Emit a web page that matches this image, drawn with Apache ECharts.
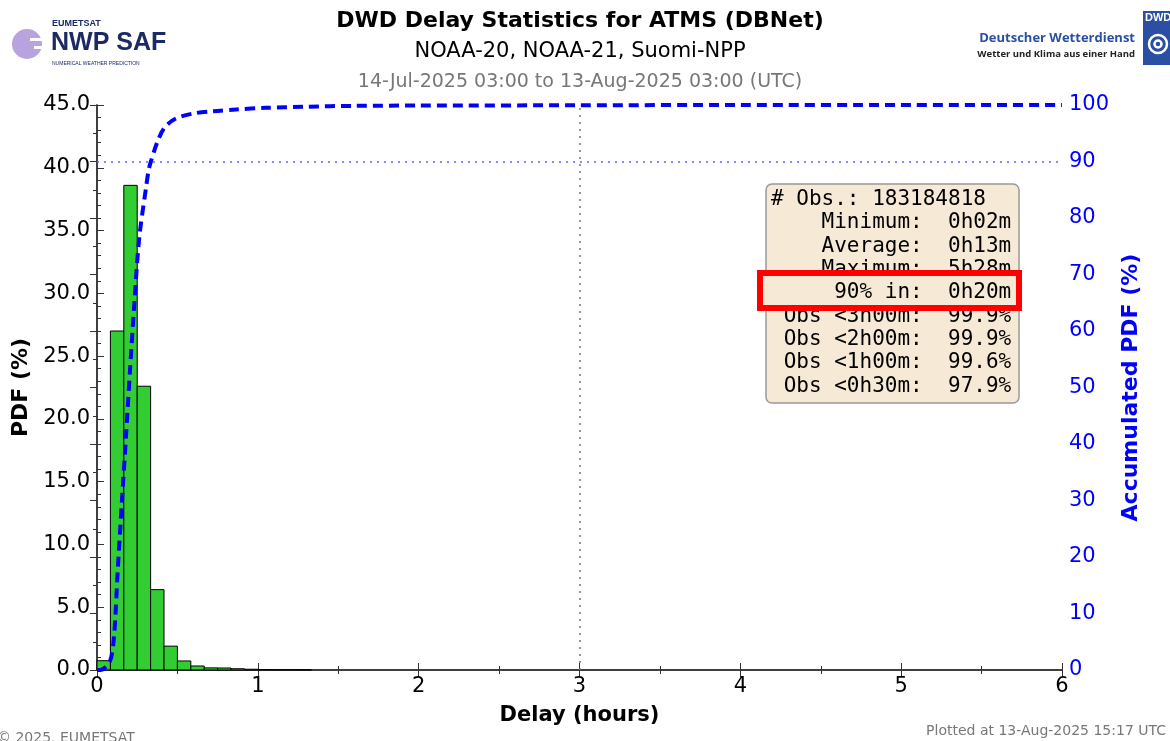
<!DOCTYPE html>
<html>
<head>
<meta charset="utf-8">
<script src="https://cdn.jsdelivr.net/npm/echarts@6/dist/echarts.min.js"></script>
<style>
  html, body { margin: 0; padding: 0; background: #fff; }
  #main { width: 1170px; height: 741px; }
</style>
</head>
<body>
<div id="main"></div>
<script>
// histogram: 5-minute bins starting at 0h
var binMinutes = 5;
var pdfValues = [0.74, 27.0, 38.6, 22.6, 6.4, 1.9, 0.72, 0.32, 0.17, 0.16, 0.1, 0.06, 0.04, 0.03, 0.03, 0.02];

// accumulated PDF
var cumHours  = [0, 0.02, 0.08, 0.106, 0.129, 0.154, 0.18, 0.205, 0.232, 0.263, 0.305, 0.32, 0.333, 0.377, 0.42, 0.49, 0.6, 0.72, 0.865, 1.05, 1.3, 1.6, 2, 3, 4, 5, 6];
var cumValues = [0, 0, 1.5, 6, 17.7, 29.5, 41.2, 53, 64.8, 76.6, 85.4, 88.3, 89.8, 93.6, 96, 97.6, 98.5, 98.9, 99.2, 99.5, 99.7, 99.85, 99.9, 99.95, 100, 100, 100];

var xTicks = [0, 1, 2, 3, 4, 5, 6];
var statsLines = [
    '# Obs.: 183184818',
    '    Minimum:  0h02m',
    '    Average:  0h13m',
    '    Maximum:  5h28m',
    '',
    ' Obs <3h00m:  99.9%',
    ' Obs <2h00m:  99.9%',
    ' Obs <1h00m:  99.6%',
    ' Obs <0h30m:  97.9%'
];
var highlightLine = '     90% in:  0h20m';

var histData = pdfValues.map(function (v, i) {
    return [i * binMinutes / 60, (i + 1) * binMinutes / 60, v];
});
var cumData = cumHours.map(function (h, i) { return [h, cumValues[i]]; });

var chart = echarts.init(document.getElementById('main'));
var axisLine = { lineStyle: { color: '#333', width: 1.5 } };
var font = 'DejaVu Sans';

var option = {
    animation: false,
    grid: { left: 97, right: 108, top: 105, bottom: 71 },
    xAxis: [
        {
            type: 'value', min: 0, max: 6, interval: 1,
            axisLine: axisLine,
            axisTick: { inside: true, length: 7, lineStyle: { color: '#333' } },
            minorTick: { show: true, splitNumber: 2, length: 4, lineStyle: { color: '#333' } },
            splitLine: { show: false },
            axisLabel: { fontFamily: font, fontSize: 21, color: '#000', margin: 6,
                formatter: function (v) { return xTicks.indexOf(v) >= 0 ? String(v) : ''; } },
            name: 'Delay (hours)', nameLocation: 'middle', nameGap: 35,
            nameTextStyle: { fontFamily: font, fontSize: 21, fontWeight: 'bold', color: '#000' }
        },
        {
            type: 'value', position: 'top', min: 0, max: 6, interval: 1,
            axisLine: axisLine,
            axisTick: { inside: true, length: 7, lineStyle: { color: '#333' } },
            minorTick: { show: true, splitNumber: 2, length: 4, lineStyle: { color: '#333' } },
            splitLine: { show: false },
            axisLabel: { show: false }
        }
    ],
    yAxis: [
        {
            type: 'value', min: 0, max: 45, interval: 5,
            axisLine: Object.assign({ show: true }, axisLine),
            axisTick: { show: true, inside: true, length: 7, lineStyle: { color: '#333' } },
            minorTick: { show: true, splitNumber: 5, length: 4, lineStyle: { color: '#333' } },
            splitLine: { show: false },
            axisLabel: { fontFamily: font, fontSize: 21, color: '#000', margin: 7,
                formatter: function (v) { return v.toFixed(1); } },
            name: 'PDF (%)', nameLocation: 'middle', nameGap: 58, nameRotate: 90,
            nameTextStyle: { fontFamily: font, fontSize: 22, fontWeight: 'bold', color: '#000' }
        },
        {
            type: 'value', min: 0, max: 100, interval: 10, position: 'right',
            axisLine: Object.assign({ show: true }, axisLine),
            axisTick: { show: true, inside: true, length: 7, lineStyle: { color: '#333' } },
            minorTick: { show: true, splitNumber: 2, length: 4, lineStyle: { color: '#333' } },
            splitLine: { show: false },
            axisLabel: { fontFamily: font, fontSize: 21, color: '#0000ff', margin: 7 },
            name: 'Accumulated PDF (%)', nameLocation: 'middle', nameGap: 47, nameRotate: 90,
            nameTextStyle: { fontFamily: font, fontSize: 22, fontWeight: 'bold', color: '#0000ff' }
        }
    ],
    series: [
        {
            type: 'custom',
            xAxisIndex: 0, yAxisIndex: 0,
            z: 2,
            encode: { x: [0, 1], y: 2 },
            data: histData,
            renderItem: function (params, api) {
                var p0 = api.coord([api.value(0), api.value(2)]);
                var p1 = api.coord([api.value(1), 0]);
                return {
                    type: 'rect',
                    shape: { x: p0[0], y: p0[1], width: p1[0] - p0[0], height: p1[1] - p0[1] },
                    style: { fill: '#32cd32', stroke: '#000', lineWidth: 1 }
                };
            }
        },
        {
            type: 'line',
            xAxisIndex: 0, yAxisIndex: 1,
            z: 4,
            data: cumData,
            showSymbol: false,
            smooth: 0.3,
            clip: false,
            lineStyle: { color: '#0000ff', width: 4, type: [10, 6] },
            markLine: {
                silent: true, symbol: 'none', label: { show: false },
                data: [
                    { yAxis: 90, lineStyle: { color: '#6666ff', width: 1.5, type: [2, 5] } },
                    { xAxis: 3, lineStyle: { color: '#777', width: 1.5, type: [2, 5] } }
                ]
            }
        }
    ],
    graphic: [
        // titles
        { type: 'text', x: 580, y: 10, z: 10, style: { text: 'DWD Delay Statistics for ATMS (DBNet)', fontFamily: font, fontSize: 22, fontWeight: 'bold', fill: '#000', textAlign: 'center' } },
        { type: 'text', x: 580, y: 41, z: 10, style: { text: 'NOAA-20, NOAA-21, Suomi-NPP', fontFamily: font, fontSize: 21, fill: '#000', textAlign: 'center' } },
        { type: 'text', x: 580, y: 73, z: 10, style: { text: '14-Jul-2025 03:00 to 13-Aug-2025 03:00 (UTC)', fontFamily: font, fontSize: 19, fill: '#777', textAlign: 'center' } },

        // NWP SAF logo
        { type: 'circle', shape: { cx: 27, cy: 44, r: 15 }, style: { fill: '#b9a3de' } },
        { type: 'rect', shape: { x: 30, y: 38, width: 16, height: 3 }, style: { fill: '#fff' } },
        { type: 'rect', shape: { x: 34, y: 46, width: 12, height: 3 }, style: { fill: '#fff' } },
        { type: 'text', x: 52, y: 19, style: { text: 'EUMETSAT', fontFamily: 'Liberation Sans', fontSize: 9, fontWeight: 'bold', fill: '#1b2a63' } },
        { type: 'text', x: 51, y: 31, style: { text: 'NWP SAF', fontFamily: 'Liberation Sans', fontSize: 25, fontWeight: 'bold', fill: '#1b2a63' } },
        { type: 'text', x: 52, y: 61, style: { text: 'NUMERICAL WEATHER PREDICTION', fontFamily: 'Liberation Sans', fontSize: 5, fill: '#1b2a63' } },

        // DWD logo
        { type: 'text', x: 1135, y: 32, style: { text: 'Deutscher Wetterdienst', fontFamily: 'Open Sans', fontSize: 13, fontWeight: 'bold', fill: '#2b4fa3', textAlign: 'right' } },
        { type: 'text', x: 1135, y: 49, style: { text: 'Wetter und Klima aus einer Hand', fontFamily: 'Open Sans', fontSize: 9.5, fontWeight: 'bold', fill: '#222', textAlign: 'right' } },
        { type: 'rect', shape: { x: 1143, y: 11, width: 30, height: 54 }, style: { fill: '#2b4fa3' } },
        { type: 'text', x: 1145, y: 12, style: { text: 'DWD', fontFamily: 'Liberation Sans', fontSize: 11, fontWeight: 'bold', fill: '#fff' } },
        { type: 'circle', shape: { cx: 1158, cy: 44, r: 9 }, style: { fill: 'none', stroke: '#fff', lineWidth: 2.5 } },
        { type: 'circle', shape: { cx: 1158, cy: 44, r: 3.5 }, style: { fill: 'none', stroke: '#fff', lineWidth: 2.5 } },

        // statistics box
        { type: 'rect', z: 20, shape: { x: 766, y: 184, width: 253, height: 219, r: 6 }, style: { fill: '#f6ead6', stroke: '#999', lineWidth: 1.5 } },
        { type: 'text', z: 21, x: 771, y: 188, style: { text: statsLines.join('\n'), fontFamily: 'DejaVu Sans Mono', fontSize: 21, lineHeight: 23.3, fill: '#000' } },
        { type: 'rect', z: 22, shape: { x: 760, y: 273, width: 259, height: 35 }, style: { fill: '#f6ead6', stroke: '#ff0000', lineWidth: 6 } },
        { type: 'text', z: 23, x: 771, y: 281, style: { text: highlightLine, fontFamily: 'DejaVu Sans Mono', fontSize: 21, lineHeight: 23, fill: '#000' } },

        // footers
        { type: 'text', x: -3, y: 731, style: { text: '\u00a9 2025, EUMETSAT', fontFamily: font, fontSize: 14, fill: '#777' } },
        { type: 'text', x: 1166, y: 724, style: { text: 'Plotted at 13-Aug-2025 15:17 UTC', fontFamily: font, fontSize: 14, fill: '#777', textAlign: 'right' } }
    ]
};
chart.setOption(option);
</script>
</body>
</html>
